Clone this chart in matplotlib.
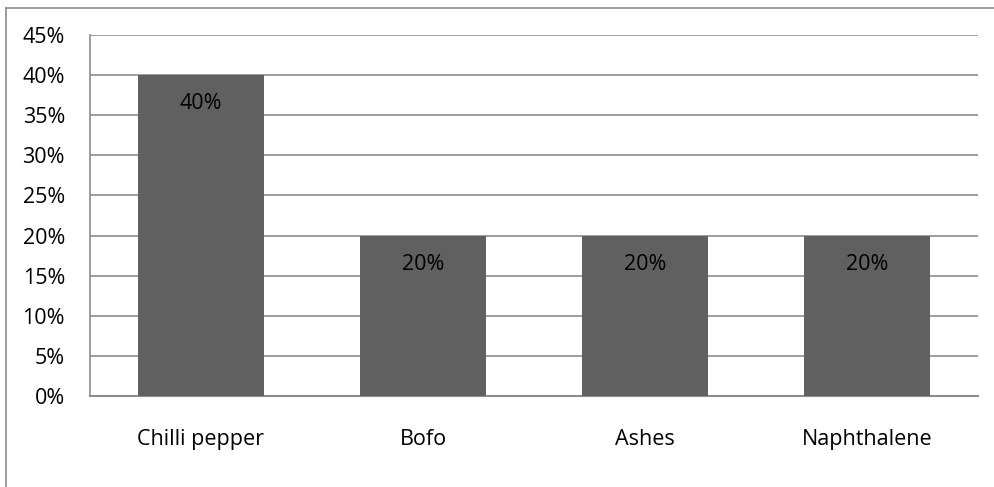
import matplotlib.pyplot as plt
from matplotlib.lines import Line2D
from matplotlib.ticker import MultipleLocator, FuncFormatter

categories = ["Chilli pepper", "Bofo", "Ashes", "Naphthalene"]
shares = [40, 20, 20, 20]
bar_labels = ["40%", "20%", "20%", "20%"]

plt.rcParams["font.family"] = ["Open Sans", "DejaVu Sans"]

W, H = 995, 487
fig = plt.figure(figsize=(W / 100, H / 100), dpi=100)
ax = fig.add_axes([90 / W, 1 - 396 / H, (978 - 90) / W, (396 - 35) / H])

x = range(len(categories))
bars = ax.bar(x, shares, width=0.57, color="#606060", zorder=3)
for rect, lab in zip(bars, bar_labels):
    ax.text(rect.get_x() + rect.get_width() / 2, rect.get_height() - 3.6, lab,
            ha="center", va="center", fontsize=15.5, color="black", zorder=4)

ax.set_xlim(-0.5, len(categories) - 0.5)
ax.set_ylim(0, 45)
ax.yaxis.set_major_locator(MultipleLocator(5))
ax.yaxis.set_major_formatter(FuncFormatter(lambda v, _: f"{v:.0f}%"))
ax.set_xticks(list(x))
ax.set_xticklabels(categories)
ax.tick_params(axis="both", length=0, labelsize=15.5, colors="black")
ax.tick_params(axis="y", pad=18)
ax.tick_params(axis="x", pad=24)

ax.grid(axis="y", color="#8c8c8c", lw=1.2, zorder=0)
for side in ("top", "right"):
    ax.spines[side].set_visible(False)
ax.spines["left"].set_color("#8c8c8c")
ax.spines["bottom"].set_color("#8c8c8c")
ax.spines["left"].set_linewidth(1.2)
ax.spines["bottom"].set_linewidth(1.5)

# chart-area frame: left and top edges only
fig.add_artist(Line2D([6 / W, 6 / W], [0, 1 - 8 / H], color="#8c8c8c", lw=1.2))
fig.add_artist(Line2D([6 / W, 1], [1 - 8 / H, 1 - 8 / H], color="#8c8c8c", lw=1.2))

fig.savefig("out.png", dpi=100)
